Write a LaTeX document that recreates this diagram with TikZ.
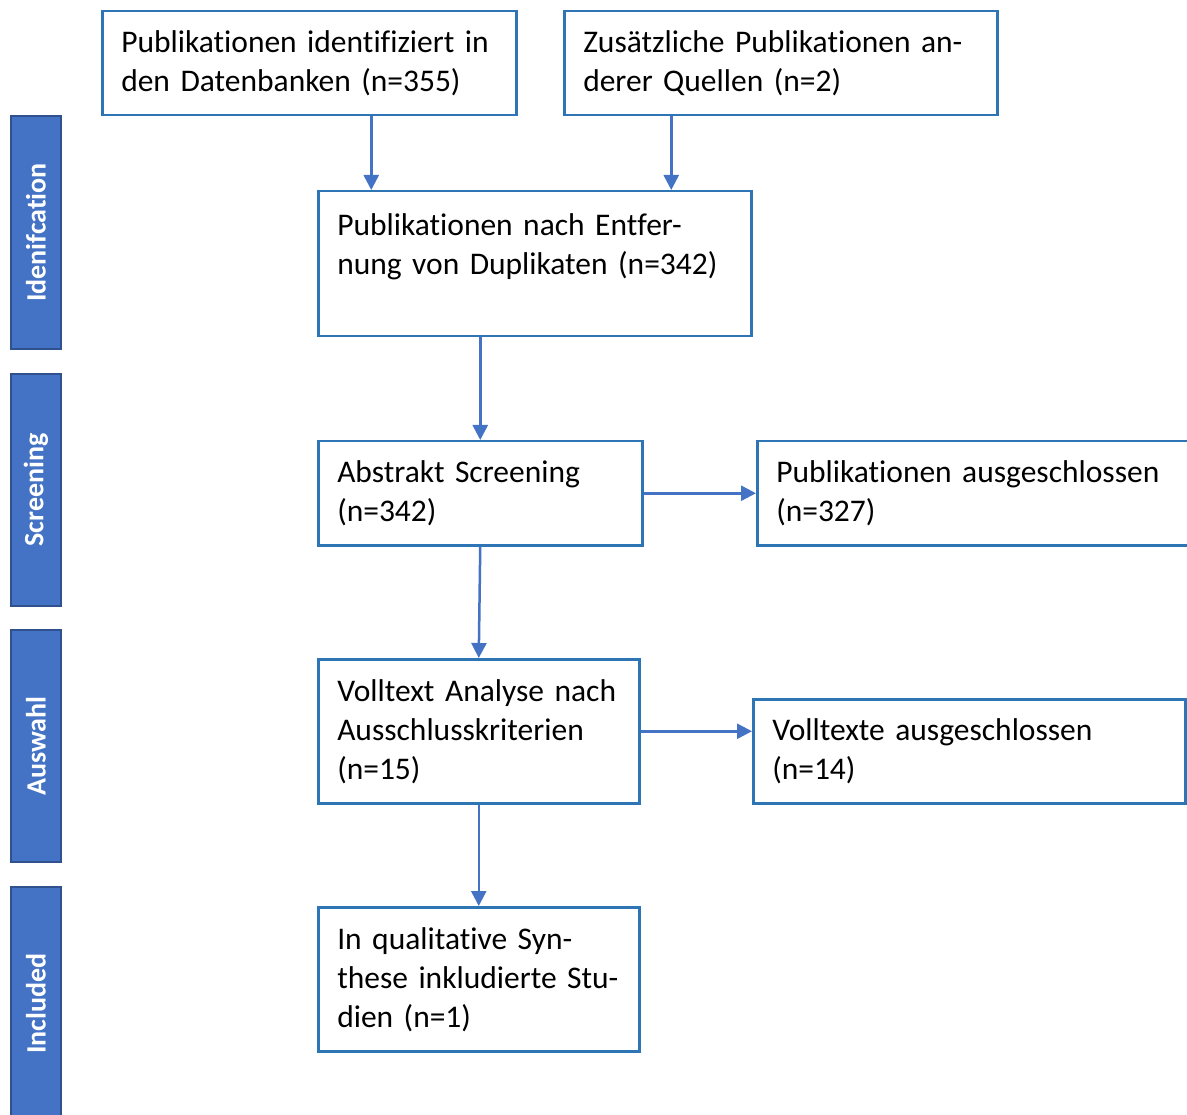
\documentclass[tikz,border=0pt]{standalone}
\usepackage{fontspec}
\setmainfont{Carlito}[Ligatures=NoCommon]
\usetikzlibrary{arrows.meta}
\definecolor{boxblue}{RGB}{46,117,182}
\definecolor{flowblue}{RGB}{68,114,196}
\definecolor{phasedark}{RGB}{47,82,143}

\begin{document}
\begin{tikzpicture}[x=1pt, y=-1pt,
	box/.style={draw=boxblue, line width=2.5pt, anchor=north west, inner xsep=19pt, inner ysep=0pt, align=left, font=\fontsize{31.5}{39}\selectfont},
	phase/.style={draw=phasedark, fill=flowblue, line width=2.5pt, rotate=90, minimum height=50pt, inner sep=0pt, text=white, font=\fontsize{28}{32}\selectfont\bfseries},
	flow/.style={draw=flowblue, line width=2.5pt, -{Triangle[length=15pt,width=15pt]}}]
	\useasboundingbox (0,0) rectangle (1187,1115);

	\node[box, text width=376pt, minimum height=104pt] (ident) at (101,10) {Publikationen identifiziert in\\den Datenbanken (n=355)};
	\node[box, text width=395pt, minimum height=104pt] (extra) at (563,10) {Zusätzliche Publikationen an-\\derer Quellen (n=2)};
	\node[box, text width=395pt, minimum height=145pt] (dupl) at (317,190) {Publikationen nach Entfer-\\nung von Duplikaten (n=342)\\\mbox{}};
	\node[box, text width=286pt, minimum height=104pt] (screen) at (317,440) {Abstrakt Screening\\(n=342)};
	\node[box, text width=398pt, minimum height=104pt] (excl) at (756,440) {Publikationen ausgeschlossen\\(n=327)};
	\node[box, text width=283pt, minimum height=144pt] (full) at (317,658) {Volltext Analyse nach\\Ausschlusskriterien\\(n=15)};
	\node[box, text width=394pt, minimum height=104pt] (fullex) at (752,698) {Volltexte ausgeschlossen\\(n=14)};
	\node[box, text width=283pt, minimum height=144pt] (incl) at (317,906) {In qualitative Syn-\\these inkludierte Stu-\\dien (n=1)};

	\node[phase, minimum width=233pt] (ph1) at (36,232.5) {Idenifcation};
	\node[phase, minimum width=232pt] (ph2) at (36,490) {Screening};
	\node[phase, minimum width=232pt] (ph3) at (36,746) {Auswahl};
	\node[phase, minimum width=233pt] (ph4) at (36,1003.5) {Included};

	\draw[flow] ([xshift=62pt]ident.south) -- ([xshift=62pt]ident.south |- dupl.north);
	\draw[flow] ([xshift=-109.5pt]extra.south) -- ([xshift=-109.5pt]extra.south |- dupl.north);
	\draw[flow] (screen.north |- dupl.south) -- (screen.north);
	\draw[flow] (screen.east) -- (excl.west);
	\draw[flow] (screen.south) -- (full.north);
	\draw[flow] (full.east) -- (full.east -| fullex.west);
	\draw[flow] (full.south) -- (incl.north);

\end{tikzpicture}
\end{document}
